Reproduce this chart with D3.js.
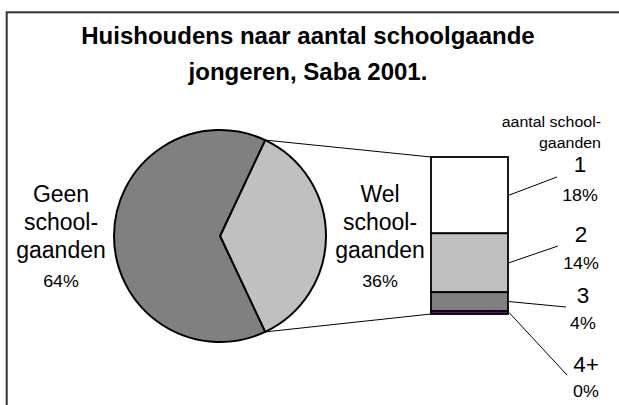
<!DOCTYPE html>
<html><head><meta charset="utf-8">
<script src="https://cdn.jsdelivr.net/npm/d3@7/dist/d3.min.js"></script>
<style>body{margin:0;background:#fff}svg{display:block;font-family:"Liberation Sans",Arial,sans-serif}</style>
</head><body><svg id="c" width="619" height="405"></svg>
<script>
// ---- data ----
const pieCategories = ["Wel schoolgaanden", "Geen schoolgaanden"];
const pieValues = [36, 64];
const pieLabelLines = [["Wel", "school-", "gaanden"], ["Geen", "school-", "gaanden"]];
const barCategories = ["1", "2", "3", "4+"];
const barValues = [17.5, 13.5, 4.3, 0.7];
const barPercentLabels = ["18%", "14%", "4%", "0%"];
const title = ["Huishoudens naar aantal schoolgaande", "jongeren, Saba 2001."];
const barTitle = ["aantal school-", "gaanden"];

// ---- styles / layout ----
const pieColors = ["#c0c0c0", "#808080"];
const barColors = ["#ffffff", "#c0c0c0", "#808080", "#800080"];
const cx = 220, cy = 236, R = 106;
const barX0 = 431, barX1 = 508, barY0 = 157, barY1 = 314;
const pieLabelPos = [{x: 380}, {x: 61}];
const barLabelPos = [
  {lx: 557, ly: 177, tx: 580, ny: 172, py: 200},
  {lx: 558, ly: 246, tx: 581, ny: 242, py: 268},
  {lx: 566, ly: 307, tx: 583, ny: 303, py: 328},
  {lx: 567, ly: 375, tx: 586, ny: 372, py: 396}
];

const svg = d3.select("#c");
svg.append("rect").attr("x", 6.7).attr("y", 12.3).attr("width", 800).attr("height", 600)
  .attr("fill", "none").attr("stroke", "#333").attr("stroke-width", 2);

function txt(x, y, s, size, anchor, sx) {
  return svg.append("text").attr("transform", `translate(${x},${y}) scale(${sx || 1},1)`)
    .attr("text-anchor", anchor || "middle").attr("font-size", size).attr("fill", "#000").text(s);
}

// title
title.forEach((t, i) => txt(308, 44 + i * 36, t, 24, "middle").attr("font-weight", "bold"));

// pie
const share = pieValues[0] / d3.sum(pieValues);
const pie = d3.pie().sort(null).startAngle(Math.PI / 2 - share * Math.PI)
  .endAngle(Math.PI / 2 - share * Math.PI + 2 * Math.PI);
const arcs = pie(pieValues);
const arc = d3.arc().innerRadius(0).outerRadius(R);
const g = svg.append("g").attr("transform", `translate(${cx},${cy})`);
g.selectAll("path").data(arcs).join("path")
  .attr("d", arc).attr("fill", (d, i) => pieColors[i])
  .attr("stroke", "#000").attr("stroke-width", 2).attr("stroke-linejoin", "round");

// connector lines
const wel = arcs[0];
const pt = a => [cx + R * Math.sin(a), cy - R * Math.cos(a)];
const pTop = pt(wel.startAngle), pBot = pt(wel.endAngle);
svg.append("line").attr("x1", pTop[0]).attr("y1", pTop[1]).attr("x2", barX0).attr("y2", barY0)
  .attr("stroke", "#000").attr("stroke-width", 1);
svg.append("line").attr("x1", pBot[0]).attr("y1", pBot[1]).attr("x2", barX0).attr("y2", barY1)
  .attr("stroke", "#000").attr("stroke-width", 1);

// pie labels
const fmt = v => Math.round(v) + "%";
pieLabelLines.forEach((lines, i) => {
  lines.forEach((ln, j) => txt(pieLabelPos[i].x, 202 + j * 28, ln, 23));
  txt(pieLabelPos[i].x, 287, fmt(pieValues[i] / d3.sum(pieValues) * 100), 17, "middle", 1.05);
});

// bar
const total = d3.sum(barValues);
const y = d3.scaleLinear().domain([0, total]).range([barY0, barY1]);
const cum = d3.cumsum(barValues);
const segs = barValues.map((v, i) => ({v, i, a: cum[i] - v, b: cum[i]}));
svg.selectAll("rect.seg").data(segs).join("rect").attr("class", "seg")
  .attr("x", barX0).attr("width", barX1 - barX0)
  .attr("y", d => y(d.a)).attr("height", d => y(d.b) - y(d.a))
  .attr("fill", d => barColors[d.i]).attr("stroke", "#000").attr("stroke-width", 1.8);

// bar labels and leaders
segs.forEach(d => {
  const p = barLabelPos[d.i];
  svg.append("line").attr("x1", barX1 + 1).attr("y1", y((d.a + d.b) / 2))
    .attr("x2", p.lx).attr("y2", p.ly).attr("stroke", "#000").attr("stroke-width", 1);
  txt(p.tx, p.ny, barCategories[d.i], 22.5);
  txt(p.tx, p.py + 1, barPercentLabels[d.i], 17, "middle", 1.05);
});

// bar title
barTitle.forEach((t, i) => txt(601, 127 + i * 21, t, 15.5, "end", 1.03));
</script></body></html>
